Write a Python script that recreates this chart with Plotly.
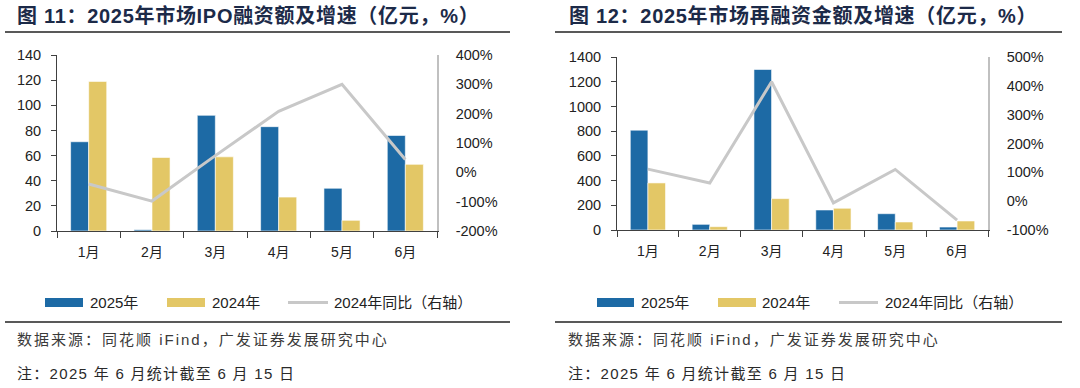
import plotly.graph_objects as go

W, H = 1080, 388

months = ['1月', '2月', '3月', '4月', '5月', '6月']

# Figure 11: IPO financing (亿元) and YoY (%)
ipo_2025 = [71, 1, 92, 83, 34, 76]
ipo_2024 = [119, 58.5, 59, 27, 8.5, 53]
ipo_yoy = [-40, -98, 57, 208, 300, 44]

# Figure 12: refinancing (亿元) and YoY (%)
refi_2025 = [808, 46, 1299, 162, 132, 24]
refi_2024 = [381, 27, 254, 176, 65, 73]
refi_yoy = [111, 63, 414, -6, 110, -66]

ipo_left_ticks = [0, 20, 40, 60, 80, 100, 120, 140]
ipo_right_ticks = [-200, -100, 0, 100, 200, 300, 400]
refi_left_ticks = [0, 200, 400, 600, 800, 1000, 1200, 1400]
refi_right_ticks = [-100, 0, 100, 200, 300, 400, 500]

titles = ['图 11：2025年市场IPO融资额及增速（亿元，%）',
          '图 12：2025年市场再融资金额及增速（亿元，%）']
legend_names = ['2025年', '2024年', '2024年同比（右轴）']
source_text = '数据来源：同花顺 iFind，广发证券发展研究中心'
note_text = '注：2025 年 6 月统计截至 6 月 15 日'

BLUE = '#1D6AA5'
YELLOW = '#E3C766'
GRAY = '#C8C8C8'
NAVY = '#1C2A48'
TXT = '#222222'
FONT = 'Liberation Sans, Arial, Noto Sans CJK SC, sans-serif'


def px(x):
    return x / W


def py(y):
    return 1 - y / H


fig = go.Figure()

bar_line = dict(color='white', width=0.6)
fig.add_trace(go.Bar(x=months, y=ipo_2025, name=legend_names[0], marker=dict(color=BLUE, line=bar_line),
                     xaxis='x', yaxis='y', showlegend=False))
fig.add_trace(go.Bar(x=months, y=ipo_2024, name=legend_names[1], marker=dict(color=YELLOW, line=bar_line),
                     xaxis='x', yaxis='y', showlegend=False))
fig.add_trace(go.Scatter(x=months, y=ipo_yoy, name=legend_names[2], mode='lines', line=dict(color=GRAY, width=3),
                         xaxis='x', yaxis='y2', showlegend=False))
fig.add_trace(go.Bar(x=months, y=refi_2025, name=legend_names[0], marker=dict(color=BLUE, line=bar_line),
                     xaxis='x2', yaxis='y3', showlegend=False))
fig.add_trace(go.Bar(x=months, y=refi_2024, name=legend_names[1], marker=dict(color=YELLOW, line=bar_line),
                     xaxis='x2', yaxis='y3', showlegend=False))
fig.add_trace(go.Scatter(x=months, y=refi_yoy, name=legend_names[2], mode='lines', line=dict(color=GRAY, width=3),
                         xaxis='x2', yaxis='y4', showlegend=False))

tickfont = dict(family=FONT, size=14.5, color=TXT)


def xaxis(domain, anchor):
    return dict(domain=domain, anchor=anchor, type='category', showline=True, linecolor='#404040', linewidth=1,
                ticks='outside', tickson='boundaries', ticklen=6, tickcolor='#404040', showgrid=False,
                tickfont=dict(family=FONT, size=14, color=TXT), ticklabelstandoff=8, fixedrange=True)


def yleft(domain, anchor, ticks):
    return dict(domain=domain, anchor=anchor, range=[ticks[0], ticks[-1]], tickvals=ticks,
                ticktext=[str(v) for v in ticks], showline=True, linecolor='#404040', linewidth=1,
                ticks='outside', ticklen=5, tickcolor='#404040', showgrid=False, zeroline=False,
                tickfont=tickfont, ticklabelstandoff=7)


def yright(overlay, anchor, ticks):
    return dict(overlaying=overlay, anchor=anchor, side='right', range=[ticks[0], ticks[-1]], tickvals=ticks,
                ticktext=[f'{v}%' for v in ticks], showline=True, linecolor='#C0C0C0', linewidth=1.5,
                ticks='', showgrid=False, zeroline=False, tickfont=tickfont, ticklabelstandoff=14)


L_x = [px(57), px(437)]
L_y = [py(231), py(55)]
R_x = [px(617), px(988)]
R_y = [py(230), py(57)]

fig.update_layout(
    width=W, height=H, margin=dict(l=0, r=0, t=0, b=0, autoexpand=False),
    paper_bgcolor='white', plot_bgcolor='white',
    barmode='group', bargap=0.43, bargroupgap=0.0,
    xaxis=xaxis(L_x, 'y'),
    yaxis=yleft(L_y, 'x', ipo_left_ticks),
    yaxis2=yright('y', 'x', ipo_right_ticks),
    xaxis2=xaxis(R_x, 'y3'),
    yaxis3=yleft(R_y, 'x2', refi_left_ticks),
    yaxis4=yright('y3', 'x2', refi_right_ticks),
    font=dict(family=FONT),
)

shapes = []
annotations = []

panels = [
    dict(x0=5, x1=510, title_x=15, legend=[(45, 83, 87.5), (167, 205, 210), (288, 328, 332)], foot_x=15),
    dict(x0=555, x1=1062, title_x=567, legend=[(597, 634, 639), (718, 756, 760), (839, 878, 883)], foot_x=566),
]

for i, p in enumerate(panels):
    annotations.append(dict(text=f'<span style="letter-spacing:0.7px">{titles[i]}</span>', x=px(p['title_x']), y=py(16),
                            xref='paper', yref='paper', xanchor='left', yanchor='middle', showarrow=False,
                            font=dict(family='Liberation Sans, Noto Sans CJK SC, sans-serif', size=20, color=NAVY,
                                      weight='bold')))
    shapes.append(dict(type='line', xref='paper', yref='paper', x0=px(p['x0']), x1=px(p['x1']), y0=py(32), y1=py(32),
                       line=dict(color='#222222', width=1.5)))
    shapes.append(dict(type='line', xref='paper', yref='paper', x0=px(p['x0']), x1=px(p['x1']), y0=py(322), y1=py(322),
                       line=dict(color='#222222', width=1.5)))
    (b0, b1, bt), (y0, y1, yt), (g0, g1, gt) = p['legend']
    shapes.append(dict(type='rect', xref='paper', yref='paper', x0=px(b0), x1=px(b1), y0=py(307), y1=py(298),
                       fillcolor=BLUE, line=dict(width=0)))
    shapes.append(dict(type='rect', xref='paper', yref='paper', x0=px(y0), x1=px(y1), y0=py(307), y1=py(298),
                       fillcolor=YELLOW, line=dict(width=0)))
    shapes.append(dict(type='line', xref='paper', yref='paper', x0=px(g0), x1=px(g1), y0=py(302.5), y1=py(302.5),
                       line=dict(color=GRAY, width=3)))
    for name, tx in zip(legend_names, [bt, yt, gt]):
        annotations.append(dict(text=name, x=px(tx), y=py(302.5), xref='paper', yref='paper', xanchor='left',
                                yanchor='middle', showarrow=False,
                                font=dict(family=FONT, size=15, color=TXT)))
    annotations.append(dict(text=f'<span style="letter-spacing:2px">{source_text}</span>', x=px(p['foot_x']), y=py(339),
                            xref='paper', yref='paper', xanchor='left', yanchor='middle', showarrow=False,
                            font=dict(family=FONT, size=15, color='#3A3A3A')))
    annotations.append(dict(text=f'<span style="letter-spacing:1.3px">{note_text}</span>', x=px(p['foot_x']), y=py(373),
                            xref='paper', yref='paper', xanchor='left', yanchor='middle', showarrow=False,
                            font=dict(family=FONT, size=15, color='#2A2A2A')))

fig.update_layout(shapes=shapes, annotations=annotations)
fig.write_html('out.html', config={'displayModeBar': False},
               post_script="document.body.style.margin='0';document.body.style.overflow='hidden';")
